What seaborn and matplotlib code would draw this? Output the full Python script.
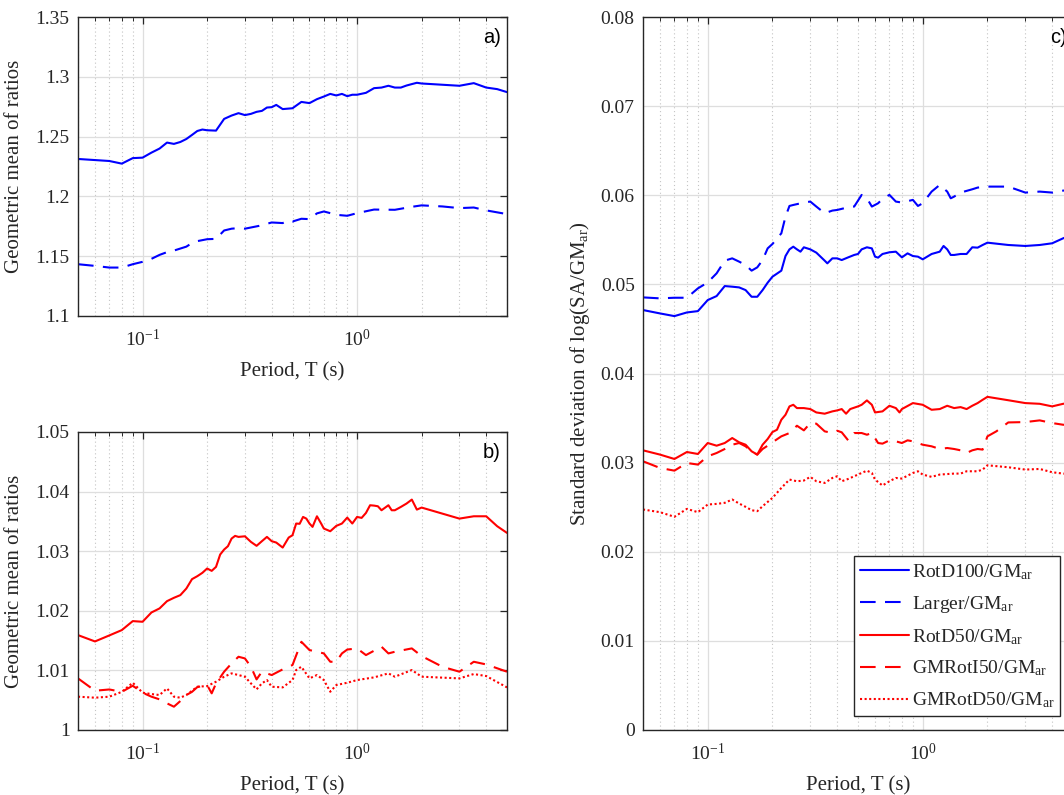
import numpy as np
import pandas as pd
import matplotlib
matplotlib.use("Agg")
import matplotlib.pyplot as plt
import seaborn as sns
from matplotlib.ticker import LogLocator, FuncFormatter, NullFormatter, FixedLocator

# ---------------- data ----------------
# Panel a
a_rotd100_T = [0.05, 0.07, 0.08, 0.09, 0.1, 0.11, 0.12, 0.13, 0.14, 0.15, 0.16, 0.17, 0.18, 0.19,
               0.2, 0.22, 0.24, 0.26, 0.28, 0.3, 0.32, 0.34, 0.36, 0.38, 0.4, 0.42, 0.45, 0.5,
               0.55, 0.6, 0.65, 0.7, 0.75, 0.8, 0.85, 0.9, 0.95, 1.0, 1.1, 1.2, 1.3, 1.4, 1.5,
               1.6, 1.7, 1.8, 1.9, 2.0, 3.0, 3.5, 4.0, 4.5, 5.0]
a_rotd100 = [1.2313, 1.2296, 1.2274, 1.2320, 1.2324, 1.2366, 1.2400, 1.2450, 1.2439, 1.2455, 1.2480,
             1.2514, 1.2547, 1.2559, 1.2553, 1.2550, 1.2648, 1.2676, 1.2696, 1.2680, 1.2690, 1.2707,
             1.2715, 1.2743, 1.2746, 1.2765, 1.2730, 1.2737, 1.2790, 1.2780, 1.2813, 1.2835, 1.2857,
             1.2844, 1.2857, 1.2838, 1.2850, 1.2850, 1.2866, 1.2905, 1.2910, 1.2925, 1.2910, 1.2910,
             1.2927, 1.2939, 1.2950, 1.2944, 1.2925, 1.2947, 1.2910, 1.2897, 1.2872]

a_larger_T = [0.05, 0.06, 0.07, 0.08, 0.09, 0.1, 0.11, 0.12, 0.13, 0.14, 0.15, 0.16, 0.17, 0.18,
              0.2, 0.22, 0.24, 0.26, 0.28, 0.3, 0.35, 0.4, 0.45, 0.48, 0.5, 0.55, 0.6, 0.65, 0.7,
              0.75, 0.8, 0.9, 1.0, 1.2, 1.5, 1.8, 2.0, 2.5, 3.0, 3.5, 4.0, 5.0]
a_larger = [1.1433, 1.1419, 1.1405, 1.1405, 1.1433, 1.1453, 1.1478, 1.1511, 1.1534, 1.1547, 1.1564,
            1.1580, 1.1610, 1.1626, 1.1642, 1.1645, 1.1715, 1.1730, 1.1735, 1.1730, 1.1754, 1.1782,
            1.1777, 1.1800, 1.1790, 1.1813, 1.1810, 1.1858, 1.1874, 1.1860, 1.1846, 1.1838, 1.1860,
            1.1890, 1.1888, 1.1913, 1.1925, 1.1916, 1.1902, 1.1907, 1.1883, 1.1852]

# Panel b
b_rotd50_T = [0.05, 0.06, 0.07, 0.08, 0.09, 0.1, 0.11, 0.12, 0.13, 0.14, 0.15, 0.16, 0.17, 0.18,
              0.19, 0.2, 0.21, 0.22, 0.23, 0.24, 0.25, 0.26, 0.27, 0.28, 0.3, 0.32, 0.34, 0.36,
              0.38, 0.4, 0.42, 0.45, 0.48, 0.5, 0.52, 0.54, 0.56, 0.58, 0.6, 0.62, 0.65, 0.68,
              0.7, 0.75, 0.8, 0.85, 0.9, 0.95, 1.0, 1.05, 1.1, 1.15, 1.2, 1.25, 1.3, 1.4, 1.45,
              1.5, 1.6, 1.7, 1.8, 1.9, 2.0, 3.0, 3.5, 4.0, 4.5, 5.0]
b_rotd50 = [1.01592, 1.01486, 1.01587, 1.01676, 1.01827, 1.01816, 1.01972, 1.02040, 1.02162, 1.02218,
            1.02263, 1.02374, 1.02531, 1.02581, 1.02637, 1.02710, 1.02670, 1.02737, 1.02944, 1.03028,
            1.03084, 1.03212, 1.03257, 1.03240, 1.03250, 1.03156, 1.03090, 1.03168, 1.03240, 1.03168,
            1.03145, 1.03061, 1.03229, 1.03268, 1.03464, 1.03460, 1.03575, 1.03547, 1.03464, 1.03408,
            1.03586, 1.03464, 1.03380, 1.03335, 1.03425, 1.03464, 1.03564, 1.03464, 1.03575, 1.03559,
            1.03642, 1.03771, 1.03765, 1.03754, 1.03687, 1.03771, 1.03687, 1.03687, 1.03743, 1.03799,
            1.03866, 1.03698, 1.03732, 1.03547, 1.03586, 1.03586, 1.03419, 1.03307]

b_gmroti50_T = [0.05, 0.06, 0.07, 0.08, 0.09, 0.1, 0.11, 0.12, 0.13, 0.14, 0.15, 0.16, 0.17, 0.18,
                0.2, 0.21, 0.22, 0.24, 0.26, 0.28, 0.3, 0.32, 0.34, 0.36, 0.4, 0.45, 0.5, 0.55,
                0.6, 0.65, 0.7, 0.75, 0.8, 0.85, 0.9, 1.0, 1.1, 1.2, 1.3, 1.4, 1.5, 1.8, 2.0,
                2.5, 3.0, 3.5, 4.0, 5.0]
b_gmroti50 = [1.00866, 1.00659, 1.00680, 1.00640, 1.00743, 1.00626, 1.00559, 1.00514, 1.00447, 1.00391,
              1.00486, 1.00587, 1.00640, 1.00720, 1.00754, 1.00615, 1.00782, 1.00978, 1.01117, 1.01229,
              1.01201, 1.01061, 1.00849, 1.00978, 1.00922, 1.01017, 1.01090, 1.01480, 1.01341, 1.01313,
              1.01285, 1.01145, 1.01145, 1.01285, 1.01350, 1.01369, 1.01257, 1.01330, 1.01397, 1.01285,
              1.01313, 1.01369, 1.01240, 1.01061, 1.00978, 1.01145, 1.01100, 1.00978]

b_gmrotd50_T = [0.05, 0.06, 0.07, 0.08, 0.09, 0.1, 0.11, 0.12, 0.13, 0.14, 0.15, 0.16, 0.18, 0.2,
                0.22, 0.24, 0.26, 0.28, 0.3, 0.32, 0.34, 0.36, 0.38, 0.4, 0.45, 0.5, 0.52, 0.55,
                0.6, 0.65, 0.7, 0.75, 0.8, 0.9, 1.0, 1.2, 1.4, 1.5, 1.8, 2.0, 3.0, 3.5, 4.0, 5.0]
b_gmrotd50 = [1.00559, 1.00542, 1.00559, 1.00640, 1.00793, 1.00626, 1.00603, 1.00587, 1.00698, 1.00559,
              1.00542, 1.00587, 1.00726, 1.00737, 1.00810, 1.00894, 1.00950, 1.00922, 1.00894, 1.00782,
              1.00682, 1.00782, 1.00838, 1.00726, 1.00715, 1.00838, 1.01006, 1.01061, 1.00866, 1.00922,
              1.00838, 1.00642, 1.00754, 1.00793, 1.00838, 1.00883, 1.00950, 1.00894, 1.01006, 1.00894,
              1.00866, 1.00939, 1.00905, 1.00715]

# Panel c
c_rotd100_T = [0.05, 0.06, 0.07, 0.08, 0.09, 0.1, 0.11, 0.12, 0.13, 0.14, 0.15, 0.16, 0.17, 0.18,
               0.19, 0.2, 0.22, 0.23, 0.24, 0.25, 0.26, 0.27, 0.28, 0.3, 0.32, 0.35, 0.36, 0.38,
               0.4, 0.42, 0.45, 0.48, 0.5, 0.52, 0.55, 0.58, 0.6, 0.62, 0.65, 0.7, 0.75, 0.8,
               0.85, 0.9, 0.95, 1.0, 1.1, 1.2, 1.25, 1.3, 1.35, 1.4, 1.5, 1.6, 1.7, 1.8, 1.9,
               2.0, 2.5, 3.0, 3.5, 4.0, 4.5, 5.0]
c_rotd100 = [0.04712, 0.04674, 0.04644, 0.04685, 0.04700, 0.04824, 0.04869, 0.04981, 0.04974, 0.04966,
             0.04936, 0.04861, 0.04861, 0.04936, 0.05019, 0.05086, 0.05154, 0.05318, 0.05393, 0.05423,
             0.05393, 0.05367, 0.05416, 0.05393, 0.05356, 0.05266, 0.05236, 0.05292, 0.05292, 0.05273,
             0.05303, 0.05330, 0.05341, 0.05393, 0.05416, 0.05404, 0.05311, 0.05300, 0.05341, 0.05360,
             0.05367, 0.05303, 0.05348, 0.05318, 0.05311, 0.05281, 0.05341, 0.05367, 0.05431, 0.05393,
             0.05330, 0.05330, 0.05341, 0.05341, 0.05416, 0.05412, 0.05442, 0.05468, 0.05442, 0.05431,
             0.05442, 0.05461, 0.05517, 0.05560]

c_larger_T = [0.05, 0.06, 0.07, 0.08, 0.09, 0.1, 0.11, 0.12, 0.13, 0.14, 0.15, 0.16, 0.17, 0.18,
              0.19, 0.2, 0.22, 0.23, 0.24, 0.25, 0.28, 0.3, 0.32, 0.35, 0.38, 0.4, 0.45, 0.48,
              0.52, 0.55, 0.58, 0.62, 0.65, 0.7, 0.75, 0.8, 0.9, 0.95, 1.0, 1.1, 1.2, 1.3, 1.35,
              1.4, 1.5, 1.7, 1.8, 2.0, 2.5, 3.0, 3.5, 4.0, 4.5, 5.0]
c_larger = [0.04854, 0.04843, 0.04850, 0.04850, 0.04955, 0.05022, 0.05124, 0.05266, 0.05292, 0.05255,
            0.05217, 0.05154, 0.05191, 0.05273, 0.05404, 0.05453, 0.05573, 0.05760, 0.05880, 0.05891,
            0.05918, 0.05929, 0.05873, 0.05798, 0.05828, 0.05835, 0.05865, 0.05873, 0.06004, 0.05966,
            0.05873, 0.05910, 0.05959, 0.06004, 0.05929, 0.05918, 0.05948, 0.05880, 0.05910, 0.06041,
            0.06116, 0.06041, 0.05966, 0.05985, 0.06030, 0.06067, 0.06086, 0.06097, 0.06097, 0.06030,
            0.06041, 0.06030, 0.06052, 0.06060]

c_rotd50_T = [0.05, 0.06, 0.07, 0.08, 0.09, 0.1, 0.11, 0.12, 0.13, 0.14, 0.15, 0.16, 0.17, 0.18,
              0.19, 0.2, 0.21, 0.22, 0.23, 0.24, 0.25, 0.26, 0.28, 0.3, 0.32, 0.35, 0.38, 0.4,
              0.42, 0.44, 0.46, 0.5, 0.52, 0.55, 0.58, 0.6, 0.65, 0.7, 0.75, 0.78, 0.8, 0.9,
              1.0, 1.1, 1.2, 1.3, 1.4, 1.5, 1.6, 1.7, 1.8, 1.9, 2.0, 2.5, 3.0, 3.5, 4.0, 4.5, 5.0]
c_rotd50 = [0.03138, 0.03090, 0.03041, 0.03119, 0.03097, 0.03220, 0.03190, 0.03220, 0.03276, 0.03228,
            0.03201, 0.03127, 0.03090, 0.03201, 0.03265, 0.03343, 0.03369, 0.03481, 0.03537, 0.03631,
            0.03649, 0.03612, 0.03612, 0.03601, 0.03563, 0.03549, 0.03575, 0.03586, 0.03601, 0.03549,
            0.03601, 0.03631, 0.03649, 0.03698, 0.03649, 0.03563, 0.03575, 0.03638, 0.03612, 0.03563,
            0.03601, 0.03668, 0.03649, 0.03593, 0.03601, 0.03638, 0.03612, 0.03623, 0.03601, 0.03638,
            0.03668, 0.03705, 0.03738, 0.03700, 0.03668, 0.03660, 0.03631, 0.03660, 0.03670]

c_gmroti50_T = [0.05, 0.06, 0.07, 0.08, 0.09, 0.1, 0.11, 0.12, 0.13, 0.14, 0.15, 0.16, 0.17, 0.18,
                0.19, 0.2, 0.22, 0.24, 0.26, 0.28, 0.3, 0.32, 0.35, 0.38, 0.4, 0.42, 0.45, 0.48,
                0.52, 0.55, 0.58, 0.62, 0.65, 0.7, 0.75, 0.8, 0.85, 0.9, 1.0, 1.1, 1.2, 1.3, 1.4,
                1.5, 1.6, 1.7, 1.8, 1.9, 2.0, 2.2, 2.5, 3.0, 3.5, 4.0, 4.5, 5.0]
c_gmroti50 = [0.03015, 0.02940, 0.02910, 0.02996, 0.02978, 0.03071, 0.03108, 0.03153, 0.03201, 0.03220,
              0.03183, 0.03127, 0.03090, 0.03153, 0.03190, 0.03228, 0.03295, 0.03332, 0.03414, 0.03362,
              0.03444, 0.03437, 0.03351, 0.03332, 0.03358, 0.03340, 0.03250, 0.03332, 0.03332, 0.03313,
              0.03332, 0.03220, 0.03213, 0.03250, 0.03239, 0.03220, 0.03250, 0.03239, 0.03201, 0.03183,
              0.03153, 0.03164, 0.03153, 0.03138, 0.03108, 0.03138, 0.03153, 0.03146, 0.03295, 0.03351,
              0.03451, 0.03455, 0.03474, 0.03444, 0.03425, 0.03420]

c_gmrotd50_T = [0.05, 0.06, 0.07, 0.08, 0.09, 0.1, 0.11, 0.12, 0.13, 0.14, 0.15, 0.16, 0.17, 0.18,
                0.2, 0.22, 0.24, 0.26, 0.28, 0.3, 0.32, 0.35, 0.38, 0.4, 0.42, 0.45, 0.5, 0.55,
                0.58, 0.6, 0.65, 0.7, 0.75, 0.8, 0.9, 0.95, 1.0, 1.1, 1.2, 1.4, 1.5, 1.6, 1.8,
                1.9, 2.0, 2.5, 3.0, 3.5, 4.0, 4.5, 5.0]
c_gmrotd50 = [0.02474, 0.02444, 0.02392, 0.02481, 0.02444, 0.02530, 0.02537, 0.02549, 0.02586, 0.02541,
              0.02504, 0.02466, 0.02455, 0.02511, 0.02604, 0.02716, 0.02810, 0.02791, 0.02799, 0.02840,
              0.02791, 0.02772, 0.02828, 0.02847, 0.02791, 0.02817, 0.02866, 0.02910, 0.02884, 0.02810,
              0.02743, 0.02791, 0.02828, 0.02821, 0.02884, 0.02903, 0.02866, 0.02840, 0.02866, 0.02877,
              0.02877, 0.02903, 0.02903, 0.02922, 0.02970, 0.02948, 0.02922, 0.02929, 0.02892, 0.02877,
              0.02870]

legend_labels = ["RotD100/GM$_{\\mathrm{ar}}$", "Larger/GM$_{\\mathrm{ar}}$", "RotD50/GM$_{\\mathrm{ar}}$",
                 "GMRotI50/GM$_{\\mathrm{ar}}$", "GMRotD50/GM$_{\\mathrm{ar}}$"]
a_yticks = [1.1, 1.15, 1.2, 1.25, 1.3, 1.35]
b_yticks = [1.0, 1.01, 1.02, 1.03, 1.04, 1.05]
c_yticks = [0.0, 0.01, 0.02, 0.03, 0.04, 0.05, 0.06, 0.07, 0.08]

# ---------------- styling ----------------
sns.set_theme(style="white")
plt.rcParams["font.family"] = ["Liberation Serif", "DejaVu Serif"]
plt.rcParams["mathtext.fontset"] = "custom"
plt.rcParams["mathtext.rm"] = "Liberation Serif"
plt.rcParams["mathtext.it"] = "Liberation Serif:italic"
plt.rcParams["mathtext.bf"] = "Liberation Serif:bold"
plt.rcParams["axes.unicode_minus"] = False

BLUE = (0, 0, 1)
RED = (1, 0, 0)
LW = 1.5
SOLID = "-"
DASH = (0, (7.5, 4.5))
DOT = (0, (1, 1.2))

W, H = 1064, 795
fig = plt.figure(figsize=(W / 100, H / 100), dpi=100)


def px_axes(left, top, right, bottom):
    return fig.add_axes([left / W, 1 - bottom / H, (right - left) / W, (bottom - top) / H])


ax_a = px_axes(78, 17, 507, 316)
ax_b = px_axes(78, 432, 507, 730)
ax_c = px_axes(643, 17, 1073, 730)


def draw(ax, T, v, color, ls):
    sns.lineplot(x=T, y=v, ax=ax, color=color, linestyle=ls, linewidth=LW,
                 estimator=None, sort=False, legend=False)


def style_axes(ax, ylim, yticks, ylabel, tag, ylab_x):
    ax.set_xscale("log")
    ax.set_xlim(0.05, 5)
    ax.set_ylim(*ylim)
    ax.yaxis.set_major_locator(FixedLocator(yticks))
    ax.yaxis.set_major_formatter(FuncFormatter(lambda v, p: "{:g}".format(round(v, 4))))
    ax.xaxis.set_major_locator(LogLocator(base=10, numticks=10))
    ax.xaxis.set_minor_locator(LogLocator(base=10, subs=np.arange(2, 10), numticks=20))
    ax.xaxis.set_minor_formatter(NullFormatter())
    ax.grid(True, which="major", color="#dedede", linewidth=0.9, linestyle="-")
    ax.grid(True, which="minor", axis="x", color="#c4c4c4", linewidth=0.8, linestyle=(0, (1, 2.5)))
    ax.set_axisbelow(True)
    ax.tick_params(which="both", direction="in", top=True, right=True, colors="#262626",
                   labelcolor="#262626", labelsize=14)
    ax.tick_params(which="major", length=5, width=0.9)
    ax.tick_params(which="minor", length=3, width=0.7)
    ax.tick_params(axis="x", which="major", pad=9)
    ax.tick_params(axis="y", which="major", pad=6)
    for s in ax.spines.values():
        s.set_color("#262626")
        s.set_linewidth(1.0)
    ax.set_xlabel("Period, T (s)", fontsize=15, color="#262626")
    ax.set_ylabel(ylabel, fontsize=15, color="#262626")
    ax.yaxis.set_label_coords(ylab_x, 0.5)
    ax.xaxis.labelpad = 9
    ax.annotate(tag, xy=(0.986, 1.0), xycoords="axes fraction", xytext=(0, -15),
                textcoords="offset points", ha="right", va="center",
                fontsize=14.5, family="Liberation Sans", color="black")


draw(ax_a, a_rotd100_T, a_rotd100, BLUE, SOLID)
draw(ax_a, a_larger_T, a_larger, BLUE, DASH)
style_axes(ax_a, (1.1, 1.35), a_yticks, "Geometric mean of ratios", "a)", -0.125)

draw(ax_b, b_rotd50_T, b_rotd50, RED, SOLID)
draw(ax_b, b_gmroti50_T, b_gmroti50, RED, DASH)
draw(ax_b, b_gmrotd50_T, b_gmrotd50, RED, DOT)
style_axes(ax_b, (1.0, 1.05), b_yticks, "Geometric mean of ratios", "b)", -0.125)

draw(ax_c, c_rotd100_T, c_rotd100, BLUE, SOLID)
draw(ax_c, c_larger_T, c_larger, BLUE, DASH)
draw(ax_c, c_rotd50_T, c_rotd50, RED, SOLID)
draw(ax_c, c_gmroti50_T, c_gmroti50, RED, DASH)
draw(ax_c, c_gmrotd50_T, c_gmrotd50, RED, DOT)
style_axes(ax_c, (0.0, 0.08), c_yticks, "Standard deviation of log(SA/GM$_{\\mathrm{ar}}$)", "c)", -0.118)

leg = ax_c.legend(handles=ax_c.get_lines()[:5], labels=legend_labels, loc="lower right",
                  bbox_to_anchor=(0.970, 0.0196), borderaxespad=0, fontsize=14,
                  frameon=True, fancybox=False, framealpha=1, edgecolor="#262626",
                  handlelength=2.5, handletextpad=0.15, labelspacing=0.62, borderpad=0.3)
leg.get_frame().set_linewidth(1.0)

fig.savefig("out.png", dpi=100)
